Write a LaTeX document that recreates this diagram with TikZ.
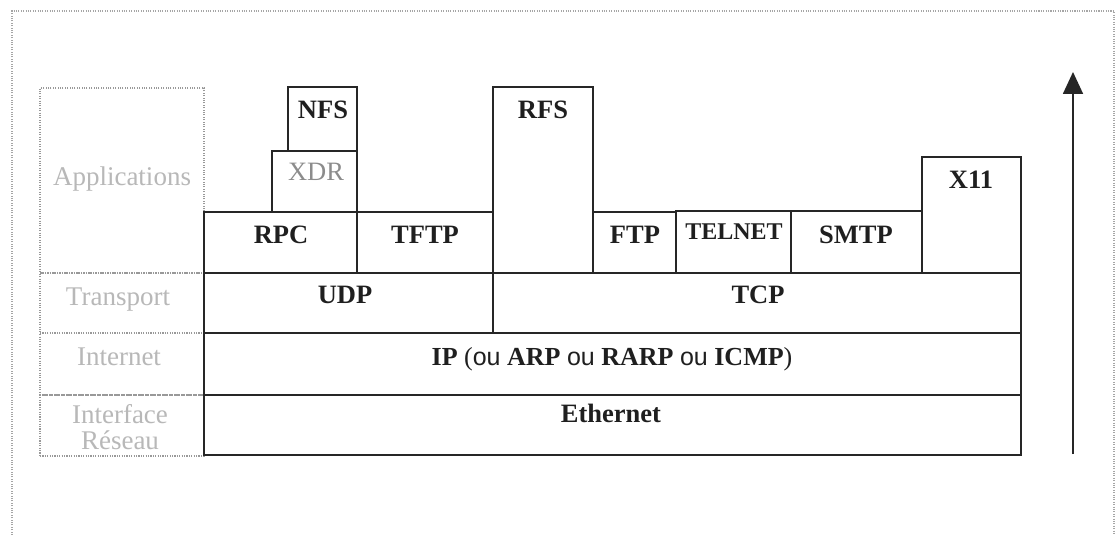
\documentclass[tikz,border=0pt]{standalone}
\usepackage{fontspec}
\setmainfont{Liberation Serif}
\newfontfamily\ousf{Liberation Sans}
\usetikzlibrary{arrows.meta}
\newcommand\pbox[6][bx]{\node[#1, minimum width={#5-#3}, minimum height={#6-#4}, anchor=north west] (#2) at (#3,-#4) {};}
\tikzset{
  bx/.style={draw=black!85, line width=1.8pt, rectangle, inner sep=0pt, outer sep=0pt},
  labbox/.style={draw=black!40, line width=1.1pt, dash pattern=on 1.1pt off 1.3pt, rectangle, inner sep=0pt, outer sep=0pt},
  frame/.style={draw=black!35, line width=1.1pt, dash pattern=on 1.1pt off 1.3pt},
  txt/.style={inner sep=0pt, anchor=base, text=black!88, font=\fontsize{26.5}{31}\selectfont\bfseries},
  layertxt/.style={inner sep=0pt, anchor=base, text=black!28, font=\fontsize{27}{31}\selectfont, align=center},
  greytxt/.style={inner sep=0pt, anchor=base, text=black!45, font=\fontsize{26.5}{31}\selectfont},
  uparrow/.style={draw=black!85, line width=1.8pt, -{Triangle[length=22pt,width=20pt]}}
}
\begin{document}
\begin{tikzpicture}[x=1pt,y=1pt]
\useasboundingbox (0,0) rectangle (1120,-535);
\fill[white] (0,0) rectangle (1120,-535);
% outer frame
\coordinate (fbl) at (12,-535);
\coordinate (ftl) at (12,-11);
\coordinate (ftr) at (1114,-11);
\coordinate (fbr) at (1114,-535);
\draw[frame] (fbl) -- (ftl) -- (ftr) -- (fbr);
% layer label column
\pbox[labbox]{labapp}{40}{88}{204}{273}
\pbox[labbox]{labtr}{40}{273}{204}{333}
\pbox[labbox]{labint}{40}{333}{204}{395}
\pbox[labbox]{labif}{40}{395}{204}{456}
\node[layertxt] (labapp-t) at (122,-185) {Applications};
\node[layertxt] (labtr-t) at (118,-305) {Transport};
\node[layertxt] (labint-t) at (119,-365) {Internet};
\node[layertxt] (labif-t1) at (120,-423) {Interface};
\node[layertxt] (labif-t2) at (120,-449) {Réseau};
% protocol boxes
\pbox{nfs}{288}{87}{357}{151}
\pbox{xdr}{272}{151}{357}{212}
\pbox{rpc}{204}{212}{357}{273}
\pbox{tftp}{357}{212}{493}{273}
\pbox{rfs}{493}{87}{593}{273}
\pbox{ftp}{593}{212}{676}{273}
\pbox{telnet}{676}{211}{791}{273}
\pbox{smtp}{791}{211}{922}{273}
\pbox{x11}{922}{157}{1021}{273}
\pbox{udp}{204}{273}{493}{333}
\pbox{tcp}{493}{273}{1021}{333}
\pbox{ip}{204}{333}{1021}{395}
\pbox{eth}{204}{395}{1021}{455}
% texts
\node[txt] (nfs-t) at (323,-118) {NFS};
\node[greytxt] (xdr-t) at (316,-180) {XDR};
\node[txt] (rpc-t) at (281,-243) {RPC};
\node[txt] (tftp-t) at (425,-243) {TFTP};
\node[txt] (rfs-t) at (543,-118) {RFS};
\node[txt] (ftp-t) at (635,-243) {FTP};
\node[txt, font=\fontsize{24}{29}\selectfont\bfseries] (telnet-t) at (734,-239) {TELNET};
\node[txt] (smtp-t) at (856,-243) {SMTP};
\node[txt] (x11-t) at (971,-188) {X11};
\node[txt] (udp-t) at (345,-303) {UDP};
\node[txt] (tcp-t) at (758,-303) {TCP};
\node[txt, font=\fontsize{26}{31}\selectfont] (ip-t) at (612,-365) {\textbf{IP} ({\ousf\fontsize{25}{30}\selectfont ou} \textbf{ARP} {\ousf\fontsize{25}{30}\selectfont ou} \textbf{RARP} {\ousf\fontsize{25}{30}\selectfont ou} \textbf{ICMP})};
\node[txt] (eth-t) at (611,-422) {Ethernet};
% arrow
\coordinate (arrB) at (1073,-454);
\coordinate (arrT) at (1073,-72);
\draw[uparrow] (arrB) -- (arrT);
\end{tikzpicture}
\end{document}
